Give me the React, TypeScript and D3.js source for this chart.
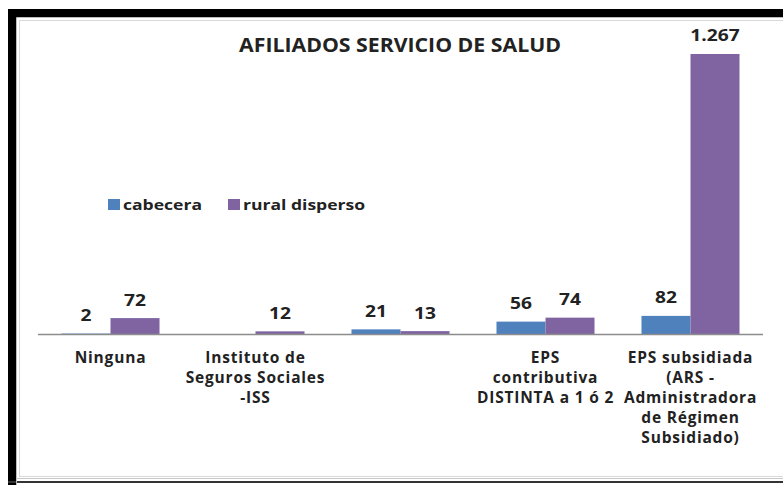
import React from "react";
import * as d3 from "d3";

const title = "AFILIADOS SERVICIO DE SALUD";
const categories = [
  "Ninguna",
  "Instituto de\nSeguros Sociales\n-ISS",
  "",
  "EPS\ncontributiva\nDISTINTA a 1 ó 2",
  "EPS subsidiada\n(ARS -\nAdministradora\nde Régimen\nSubsidiado)",
];
const seriesNames = ["cabecera", "rural disperso"];
const cabecera: (number | null)[] = [2, null, 21, 56, 82];
const ruralDisperso: (number | null)[] = [72, 12, 13, 74, 1267];
const colors = ["#4F81BD", "#8064A2"];

const W = 783;
const H = 485;
const FONT = "'Open Sans', Lato, sans-serif";

const locale = d3.formatLocale({ decimal: ",", thousands: ".", grouping: [3], currency: ["$", ""] });
const fmt = locale.format(",d");

export default function App() {
  const plotLeft = 38;
  const plotRight = 763;
  const axisY = 334;
  const x0 = d3.scaleBand<string>().domain(categories).range([plotLeft, plotRight]).paddingInner(0.324).paddingOuter(0.162);
  const x1 = d3.scaleBand<string>().domain(seriesNames).range([0, x0.bandwidth()]);
  const y = d3.scaleLinear().domain([0, 1400]).range([axisY, 24.6]);
  const series = [cabecera, ruralDisperso];

  return (
    <div style={{ position: "absolute", left: 0, top: 0 }}>
      <svg width={W} height={H} style={{ display: "block" }}>
        <rect x={0} y={0} width={W} height={H} fill="#fff" />
        {/* outer frame */}
        <rect x={8} y={9} width={W - 8} height={9} fill="#000" />
        <rect x={8} y={9} width={8} height={H - 9} fill="#000" />
        <rect x={8} y={481} width={W - 8} height={2} fill="#333" />
        <path d={`M16.5,${H} V17.5 H${W}`} stroke="#bdbdbd" fill="none" />
        <path d={`M16,478.5 H${W}`} stroke="#c8c8c8" fill="none" />
        <path d={`M19.5,477 V20.5 H${W}`} stroke="#d9d9d9" fill="none" />
        <path d={`M19,476.5 H${W}`} stroke="#d9d9d9" fill="none" />

        <text
          transform={`translate(400,52) scale(1.12,1)`}
          textAnchor="middle"
          fontFamily={FONT}
          fontWeight="bold"
          fontSize={19}
          fill="#222"
        >
          {title}
        </text>

        {/* legend */}
        <g fontFamily={FONT} fontWeight="bold" fontSize={15} fill="#222">
          {seriesNames.map((s, i) => {
            const lx = i === 0 ? 108 : 228;
            return (
              <g key={s}>
                <rect x={lx} y={199} width={12} height={11} fill={colors[i]} />
                <text transform={`translate(${lx + 15},210) scale(1.17,1)`}>{s}</text>
              </g>
            );
          })}
        </g>

        {/* bars */}
        {categories.map((c, ci) => (
          <g key={ci} transform={`translate(${x0(c)},0)`}>
            {series.map((vals, si) => {
              const v = vals[ci];
              if (v == null) return null;
              const bx = x1(seriesNames[si])!;
              return (
                <g key={si}>
                  <rect x={bx} y={y(v)} width={x1.bandwidth()} height={axisY - y(v)} fill={colors[si]} />
                  <text
                    transform={`translate(${bx + x1.bandwidth() / 2},${y(v) - 12.5}) scale(1.2,1)`}
                    textAnchor="middle"
                    fontFamily={FONT}
                    fontWeight="bold"
                    fontSize={16}
                    fill="#222"
                  >
                    {fmt(v)}
                  </text>
                </g>
              );
            })}
          </g>
        ))}

        {/* axis line */}
        <line x1={plotLeft} x2={plotRight} y1={axisY + 0.5} y2={axisY + 0.5} stroke="#8c8c8c" strokeWidth={1.5} />

        {/* category labels */}
        <g fontFamily={FONT} fontWeight="bold" fontSize={15.5} fill="#222" textAnchor="middle" letterSpacing={0.8}>
          {categories.map((c, ci) => (
            <text key={ci} x={x0(c)! + x0.bandwidth() / 2} y={363}>
              {c.split("\n").map((line, li) => (
                <tspan key={li} x={x0(c)! + x0.bandwidth() / 2} dy={li === 0 ? 0 : 20}>
                  {line}
                </tspan>
              ))}
            </text>
          ))}
        </g>
      </svg>
    </div>
  );
}
